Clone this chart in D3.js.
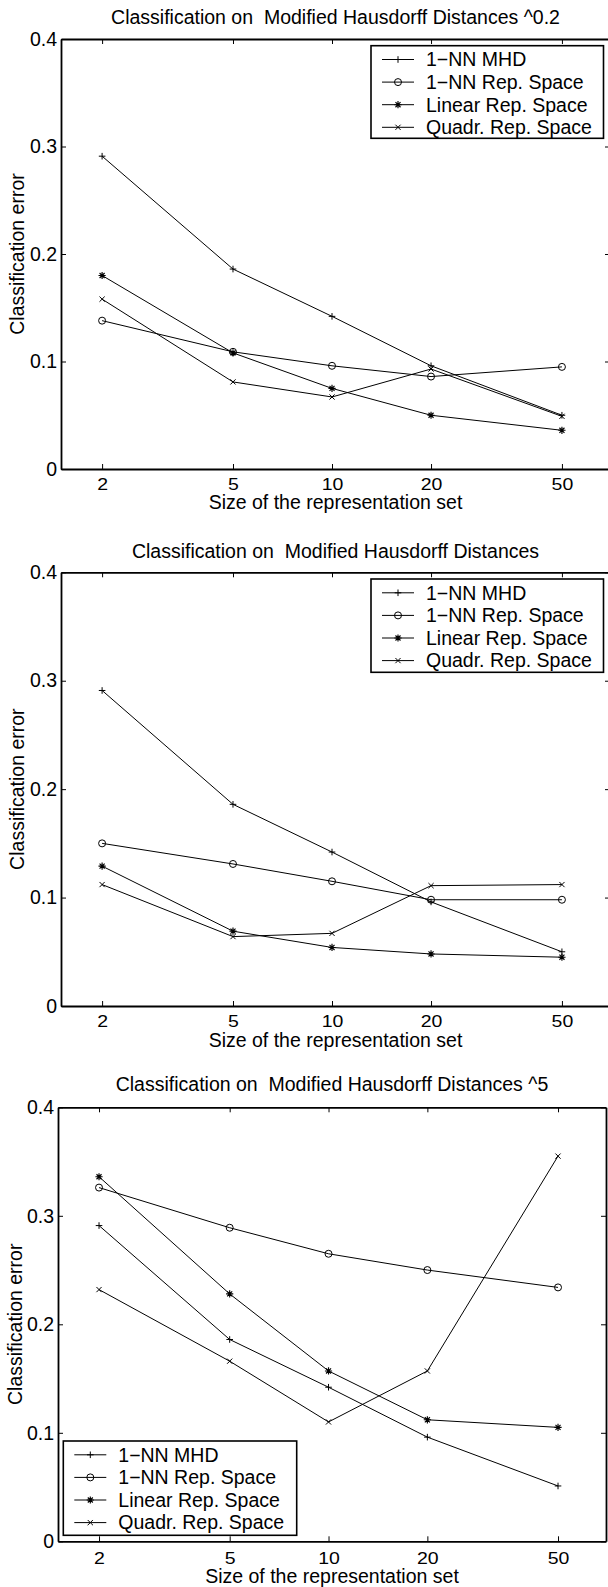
<!DOCTYPE html>
<html>
<head>
<meta charset="utf-8">
<script src="https://cdn.jsdelivr.net/npm/d3@7"></script>
<style>
  body { margin: 0; background: #fff; }
  svg { display: block; font-family: "Liberation Sans", Arial, Helvetica, sans-serif; }
</style>
</head>
<body>
<svg></svg>
<script>
// x values (size of the representation set) and tick labels
let sizes = [2, 5, 10, 20, 50]
let xTickLabels = ["2", "5", "10", "20", "50"]
let yTicks = [0, 0.1, 0.2, 0.3, 0.4]
let yTickLabels = ["0", "0.1", "0.2", "0.3", "0.4"]

let seriesNames = ["1\u2212NN MHD", "1\u2212NN Rep. Space", "Linear Rep. Space", "Quadr. Rep. Space"]
let seriesMarkers = ["plus", "circle", "star", "cross"]

let titles = [
  "Classification on  Modified Hausdorff Distances ^0.2",
  "Classification on  Modified Hausdorff Distances",
  "Classification on  Modified Hausdorff Distances ^5"
]

// panel 1: MHD ^0.2
let mhd1 = [0.291, 0.186, 0.142, 0.096, 0.050]
let rep1 = [0.138, 0.109, 0.096, 0.086, 0.095]
let lin1 = [0.180, 0.108, 0.075, 0.050, 0.036]
let quad1 = [0.158, 0.081, 0.067, 0.093, 0.049]

// panel 2: MHD
let mhd2 = [0.291, 0.186, 0.142, 0.096, 0.050]
let rep2 = [0.150, 0.131, 0.115, 0.098, 0.098]
let lin2 = [0.129, 0.069, 0.054, 0.048, 0.045]
let quad2 = [0.112, 0.064, 0.067, 0.111, 0.112]

// panel 3: MHD ^5
let mhd3 = [0.291, 0.186, 0.142, 0.096, 0.051]
let rep3 = [0.326, 0.289, 0.265, 0.250, 0.234]
let lin3 = [0.336, 0.228, 0.157, 0.112, 0.105]
let quad3 = [0.232, 0.166, 0.110, 0.157, 0.355]

let width = 608
let height = 1587
let fontSize = 19.5

let svg = d3.select("svg")
            .attr("width", width)
            .attr("height", height)

// layout of the three stacked axes
let panels = [
  { series: [mhd1, rep1, lin1, quad1], left: 61, right: 610, top: 39, bottom: 469,
    titleY: 24.3, tickY: 484.5, labelY: 502.5, yLabelX: 17.5, legend: { x: 371, y: 45.7, w: 232.5, h: 92.6 } },
  { series: [mhd2, rep2, lin2, quad2], left: 61, right: 610, top: 572.3, bottom: 1006,
    titleY: 558.3, tickY: 1021, labelY: 1040.5, yLabelX: 17.5, legend: { x: 371, y: 579, w: 232.5, h: 93.3 } },
  { series: [mhd3, rep3, lin3, quad3], left: 58, right: 606, top: 1107.3, bottom: 1541.3,
    titleY: 1091, tickY: 1558.2, labelY: 1576.5, yLabelX: 15.5, legend: { x: 63.3, y: 1441, w: 233.4, h: 94.3 } }
]

let markerSize = { plus: 3.3, star: 3.6, cross: 2.6 }

let markerPath = (type, s) => {
  if (type == "plus") return `M${-s},0H${s}M0,${-s}V${s}`
  if (type == "cross") return `M${-s},${-s}L${s},${s}M${-s},${s}L${s},${-s}`
  if (type == "star") {
    let d = s * 0.7
    return `M${-s},0H${s}M0,${-s}V${s}M${-d},${-d}L${d},${d}M${-d},${d}L${d},${-d}`
  }
  return ""
}

let drawMarker = (g, type) => {
  if (type == "circle") {
    g.append("circle").attr("r", 3.5).attr("fill", "none").attr("stroke", "#000").attr("stroke-width", 1)
  } else {
    g.append("path").attr("d", markerPath(type, markerSize[type])).attr("fill", "none")
     .attr("stroke", "#000").attr("stroke-width", type == "star" ? 1.15 : 1)
  }
}

let drawPanel = (p, i) => {
  let xScale = d3.scaleLog()
                 .domain([1.5, 70])
                 .range([p.left, p.right])
  let yScale = d3.scaleLinear()
                 .domain([0, 0.4])
                 .range([p.bottom, p.top])

  let g = svg.append("g").attr("class", "panel")

  // box axes with inward ticks on all four sides
  let bottomAxis = d3.axisBottom(xScale).tickValues(sizes).tickFormat((d, k) => xTickLabels[k])
                     .tickSize(-5).tickSizeOuter(0)
  let topAxis = d3.axisTop(xScale).tickValues(sizes).tickFormat("").tickSize(-5).tickSizeOuter(0)
  let leftAxis = d3.axisLeft(yScale).tickValues(yTicks).tickFormat((d, k) => yTickLabels[k])
                   .tickSize(-5).tickSizeOuter(0).tickPadding(4)
  let rightAxis = d3.axisRight(yScale).tickValues(yTicks).tickFormat("").tickSize(-5).tickSizeOuter(0)

  let gb = g.append("g").attr("transform", "translate(0," + p.bottom + ")").call(bottomAxis)
  let gt = g.append("g").attr("transform", "translate(0," + p.top + ")").call(topAxis)
  let gl = g.append("g").attr("transform", "translate(" + p.left + ",0)").call(leftAxis)
  let gr = g.append("g").attr("transform", "translate(" + p.right + ",0)").call(rightAxis)

  ;[gb, gt, gl, gr].forEach(a => {
    a.attr("font-family", null).attr("font-size", fontSize)
    a.select(".domain").attr("stroke", "#000").attr("stroke-width", 1.8)
    a.selectAll(".tick line").attr("stroke", "#000").attr("stroke-width", 1)
    a.selectAll(".tick text").attr("fill", "#000")
  })
  // x tick labels look a bit squashed vertically in the original
  gb.selectAll(".tick text")
    .attr("y", null)
    .attr("dy", "0.35em")
    .attr("transform", "translate(0," + (p.tickY - p.bottom) + ") scale(1,0.84)")

  // lines and markers
  let line = d3.line()
               .x((d, k) => xScale(sizes[k]))
               .y(d => yScale(d))

  p.series.forEach((values, s) => {
    g.append("path")
     .datum(values)
     .attr("d", line)
     .attr("fill", "none")
     .attr("stroke", "#000")
     .attr("stroke-width", 1)

    g.selectAll(".m" + s)
     .data(values)
     .enter()
     .append("g")
     .attr("class", "m" + s)
     .attr("transform", (d, k) => "translate(" + xScale(sizes[k]) + "," + yScale(d) + ")")
     .each(function () { drawMarker(d3.select(this), seriesMarkers[s]) })
  })

  // legend
  let lg = g.append("g").attr("transform", "translate(" + p.legend.x + "," + p.legend.y + ")")
  lg.append("rect")
    .attr("width", p.legend.w)
    .attr("height", p.legend.h)
    .attr("fill", "#fff")
    .attr("stroke", "#000")
    .attr("stroke-width", 1.6)

  seriesNames.forEach((name, s) => {
    let cy = 13.8 + s * 22.6
    lg.append("line")
      .attr("x1", 11).attr("x2", 43)
      .attr("y1", cy).attr("y2", cy)
      .attr("stroke", "#000").attr("stroke-width", 1)
    let mk = lg.append("g").attr("transform", "translate(27," + cy + ")")
    drawMarker(mk, seriesMarkers[s])
    lg.append("text")
      .attr("x", 55)
      .attr("y", cy)
      .attr("dy", "0.35em")
      .attr("font-size", fontSize)
      .text(name)
  })

  // title and axis labels
  let cx = (p.left + p.right) / 2
  g.append("text")
   .attr("x", cx)
   .attr("y", p.titleY)
   .attr("text-anchor", "middle")
   .attr("font-size", fontSize)
   .style("white-space", "pre")
   .text(titles[i])

  g.append("text")
   .attr("x", cx)
   .attr("y", p.labelY)
   .attr("dy", "0.35em")
   .attr("text-anchor", "middle")
   .attr("font-size", fontSize)
   .text("Size of the representation set")

  g.append("text")
   .attr("transform", "translate(" + p.yLabelX + "," + ((p.top + p.bottom) / 2) + ") rotate(-90)")
   .attr("dy", "0.35em")
   .attr("text-anchor", "middle")
   .attr("font-size", fontSize)
   .text("Classification error")
}

panels.forEach(drawPanel)
</script>
</body>
</html>
